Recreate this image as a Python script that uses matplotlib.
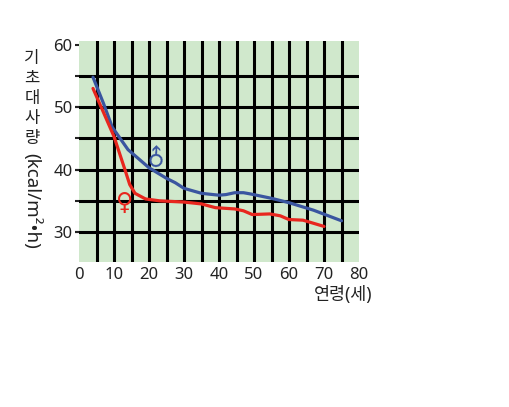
import matplotlib
matplotlib.use("Agg")
import matplotlib.pyplot as plt

plt.rcParams['font.family'] = ['Noto Sans', 'Noto Sans CJK KR', 'DejaVu Sans']

# Data
male_age = [4, 7, 9.5, 14, 20, 25, 27.5, 30, 35, 40, 42, 44.5, 47, 49, 55, 60, 67, 75]
male_bmr = [54.8, 50.6, 46.8, 43.2, 40.3, 38.6, 37.9, 37.0, 36.2, 35.9, 36.0, 36.3, 36.3, 36.1, 35.4, 34.7, 33.5, 31.8]

female_age = [4, 6.5, 10, 13, 14.5, 16, 19, 23, 30, 35, 39, 44.5, 47, 49.5, 54.5, 57.5, 60, 64, 70]
female_bmr = [53.0, 49.8, 45.3, 40.2, 37.6, 36.2, 35.3, 35.0, 34.8, 34.5, 33.9, 33.7, 33.4, 32.8, 32.9, 32.6, 32.0, 31.9, 30.9]

x_ticks = [0, 10, 20, 30, 40, 50, 60, 70, 80]
y_ticks = [30, 40, 50, 60]
x_grid = [5, 10, 15, 20, 25, 30, 35, 40, 45, 50, 55, 60, 65, 70, 75]
y_grid = [30, 35, 40, 45, 50, 55]

ylabel_ko = "기초대사량"
ylabel_unit = "(kcal/m²•h)"
xlabel = "연령(세)"

W, H = 510, 407
fig = plt.figure(figsize=(W / 100, H / 100), dpi=100)
ax = fig.add_axes([79 / W, 1 - 262 / H, 280 / W, 221 / H])
ax.set_facecolor('#d0e8cc')
for s in ax.spines.values():
    s.set_visible(False)

ax.set_xlim(0, 80)
ax.set_ylim(25.2, 60.6)

ax.set_xticks(x_ticks)
ax.set_xticklabels([str(v) for v in x_ticks])
ax.set_yticks(y_ticks)
ax.set_yticklabels([str(v) for v in y_ticks])
ax.set_yticks(y_grid, minor=True)
ax.yaxis.remove_overlapping_locs = False
ax.tick_params(axis='x', which='both', length=0, labelsize=12, pad=3.5, colors='#222222')
ax.tick_params(axis='y', which='major', length=3, width=1.5, labelsize=12, pad=1.5,
               colors='#222222')
ax.tick_params(axis='y', which='minor', length=3, width=1.5, color='#222222')

for gx in x_grid:
    ax.axvline(gx, color='black', linewidth=2.2, zorder=1)
for gy in y_grid:
    ax.axhline(gy, color='black', linewidth=2.2, zorder=1)

ax.plot(male_age, male_bmr, color='#3a55a0', linewidth=2.3, solid_joinstyle='round',
        solid_capstyle='round', zorder=3)
ax.plot(female_age, female_bmr, color='#e8261e', linewidth=2.3, solid_joinstyle='round',
        solid_capstyle='round', zorder=3)

ax.text(22.2, 41.9, '♂', color='#3a55a0', fontsize=17, family='DejaVu Sans',
        rotation=45, ha='center', va='center', zorder=4)
ax.text(13.1, 34.7, '♀', color='#e8261e', fontsize=17, family='DejaVu Sans',
        ha='center', va='center', zorder=4)

# Vertical y label: Korean characters stacked upright, unit rotated
for i, ch in enumerate(ylabel_ko):
    fig.text(32 / W, 1 - (59 + 20 * i) / H, ch, fontsize=12, ha='center', va='center',
             color='#222222')
fig.text(32 / W, 1 - 201 / H, ylabel_unit, fontsize=13.5, rotation=-90,
         ha='center', va='center', color='#222222')

fig.text(372 / W, 1 - 295 / H, xlabel, fontsize=12.5, ha='right', va='center',
         color='#222222')

fig.savefig('out.png', dpi=100)
